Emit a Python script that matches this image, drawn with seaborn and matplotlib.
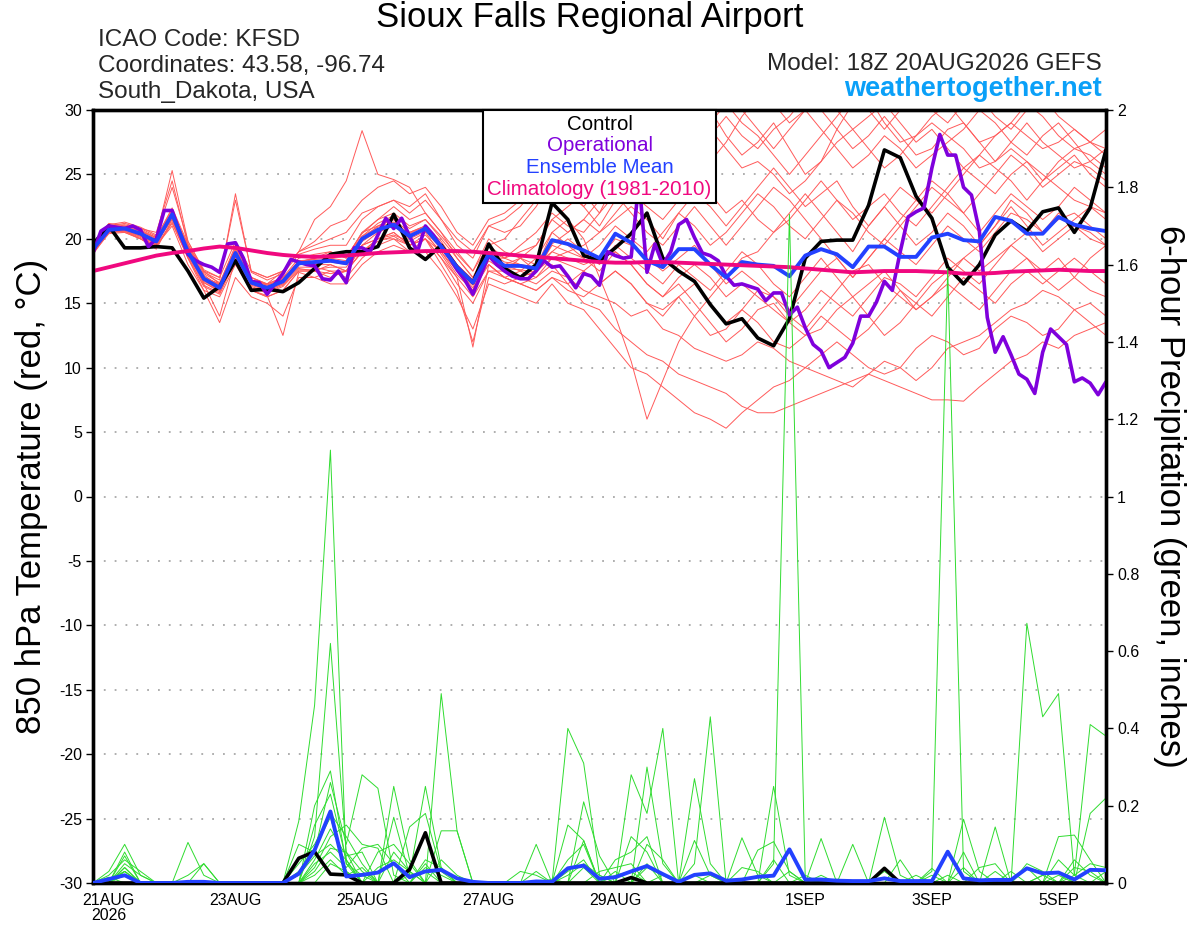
import matplotlib
matplotlib.use("Agg")
import matplotlib.pyplot as plt
import numpy as np
import pandas as pd
import seaborn as sns

# ---------------------------------------------------------------- data
RUN_START = "2026-08-20 18:00"
N_6H = 65
N_3H = 129

control_temp = [19.6, 21.0, 19.3, 19.3, 19.4, 19.3, 17.5, 15.4, 16.3, 18.3,
                16.0, 16.1, 15.9, 16.6, 17.7, 18.8, 19.0, 19.0, 19.4, 21.9,
                19.3, 18.4, 19.5, 17.8, 16.6, 19.6, 17.7, 17.0, 18.0, 22.8,
                21.5, 18.7, 18.3, 19.3, 20.4, 22.0, 18.5, 17.5, 16.7, 14.9,
                13.4, 13.8, 12.3, 11.7, 13.8, 18.5, 19.8, 19.9, 19.9, 22.6,
                26.9, 26.3, 23.3, 21.6, 17.8, 16.5, 18.0, 20.3, 21.4, 20.6,
                22.1, 22.4, 20.5, 22.4, 26.9]

mean_temp = [19.2, 20.7, 20.8, 20.4, 19.8, 21.9, 19.0, 16.9, 16.2, 18.9,
             16.6, 16.2, 16.7, 18.1, 18.2, 18.3, 18.1, 20.0, 20.7, 21.1,
             20.2, 20.8, 19.4, 17.8, 16.6, 18.8, 17.9, 17.9, 17.7, 19.9,
             19.6, 19.1, 18.5, 20.4, 19.7, 18.3, 17.8, 19.2, 19.2, 18.0,
             17.0, 18.2, 18.0, 17.9, 17.1, 18.7, 19.2, 18.8, 17.8, 19.4,
             19.4, 18.6, 18.6, 20.1, 20.4, 19.9, 19.8, 21.7, 21.4, 20.4,
             20.4, 21.7, 21.1, 20.8, 20.6]

clim_temp = [17.5, 17.8, 18.1, 18.4, 18.7, 18.9, 19.05, 19.25, 19.4, 19.3,
             19.1, 18.9, 18.75, 18.65, 18.6, 18.65, 18.7, 18.8, 18.9, 18.95,
             19.0, 19.05, 19.05, 19.05, 19.0, 18.9, 18.8, 18.7, 18.6, 18.5,
             18.4, 18.3, 18.2, 18.15, 18.15, 18.2, 18.2, 18.15, 18.1, 18.05,
             18.0, 17.95, 17.9, 17.85, 17.8, 17.7, 17.6, 17.5, 17.4, 17.45,
             17.5, 17.5, 17.5, 17.45, 17.4, 17.3, 17.3, 17.35, 17.45, 17.5,
             17.55, 17.6, 17.55, 17.5, 17.5]

oper_temp = [18.9, 20.6, 21.0, 20.9, 20.8, 21.0, 20.7, 19.4, 20.0, 22.2,
             22.2, 20.4, 18.8, 18.3, 18.0, 17.8, 17.4, 19.6, 19.7, 18.5,
             16.7, 16.6, 15.7, 16.5, 17.3, 18.4, 18.2, 18.0, 17.9, 16.9,
             16.8, 17.5, 16.6, 19.3, 19.3, 19.0, 20.3, 21.6, 20.8, 21.6,
             20.2, 19.0, 21.0, 20.3, 19.4, 18.6, 17.6, 16.8, 15.7, 17.2,
             18.7, 18.0, 17.5, 17.1, 16.9, 16.9, 17.5, 18.3, 17.8, 17.9,
             17.1, 16.2, 17.3, 17.1, 16.4, 19.0, 18.7, 18.5, 18.6, 24.5,
             17.4, 19.6, 18.0, 19.0, 21.1, 21.5, 20.1, 18.9, 18.7, 18.3,
             17.1, 16.4, 16.5, 16.3, 16.1, 15.2, 15.8, 15.8, 14.1, 14.7,
             13.1, 11.8, 11.3, 10.0, 10.4, 10.8, 11.9, 14.0, 14.0, 15.1,
             16.7, 16.0, 19.0, 21.7, 22.1, 22.4, 25.5, 28.1, 26.5, 26.5,
             24.0, 23.4, 20.6, 13.9, 11.2, 12.4, 11.0, 9.5, 9.1, 8.0,
             11.2, 13.0, 12.4, 11.8, 8.9, 9.2, 8.8, 7.9, 8.9]

temp_m01 = [19.5,21.2,21.0,20.8,20.5,24.5,19.5,17.0,16.5,19.5,17.0,16.5,17.5,19.0,21.5,22.5,24.5,28.4,25.0,24.6,24.0,22.0,20.5,18.5,17.0,19.5,20.0,21.5,23.0,25.5,24.0,22.5,21.0,23.0,25.0,26.5,27.0,29.0,31.0,30.0,28.0,26.5,27.5,29.0,27.0,25.0,26.0,28.5,30.5,31.0,29.0,27.5,28.0,29.5,30.5,29.0,27.5,28.0,29.0,30.5,29.5,28.0,27.0,27.5,28.5]
temp_m02 = [18.8,20.5,20.6,20.0,19.2,21.5,18.5,16.0,15.5,18.0,16.0,15.5,16.0,17.5,17.5,17.0,17.5,19.0,20.0,20.5,19.5,20.0,18.5,16.5,15.0,17.5,17.0,17.5,18.5,20.5,21.5,20.0,17.0,14.0,10.5,6.0,9.0,12.0,14.0,15.5,17.0,18.5,19.0,20.5,22.0,23.5,22.0,20.5,19.0,21.0,22.5,21.0,19.5,20.5,22.0,21.0,19.5,21.0,23.0,22.0,20.5,21.5,22.0,21.0,20.0]
temp_m03 = [19.0,20.6,20.5,20.0,19.5,21.0,18.0,16.0,13.5,17.0,15.5,15.0,14.0,17.0,17.0,17.5,17.5,19.5,20.0,20.0,19.0,19.0,17.5,15.5,13.0,16.5,16.0,15.5,15.0,16.5,15.0,14.5,13.0,11.5,10.0,9.5,8.5,7.5,6.5,6.0,5.3,6.5,7.5,8.5,9.0,10.0,9.5,9.0,8.5,9.5,10.5,10.0,9.0,10.0,11.5,12.0,12.5,13.5,14.5,15.0,16.0,15.5,14.5,13.5,12.5]
temp_m04 = [19.3,20.8,20.9,20.5,19.8,22.0,19.5,17.5,16.5,19.0,17.0,16.5,17.0,18.0,18.0,18.5,18.0,20.0,21.0,21.5,20.0,21.0,19.5,18.0,16.5,18.0,17.0,16.5,17.0,18.0,16.5,15.0,14.5,13.0,12.0,11.0,10.5,9.5,9.0,8.5,8.0,7.0,6.5,6.5,7.0,7.5,8.0,8.5,9.0,9.5,9.0,8.5,8.0,7.5,7.5,7.4,8.5,9.5,10.5,11.0,12.0,11.5,12.5,13.0,13.5]
temp_m05 = [19.1,20.7,20.8,20.3,19.6,21.8,19.0,16.5,14.0,18.5,16.0,15.5,16.0,17.5,17.5,18.0,17.5,19.0,20.0,20.5,19.5,20.0,18.0,16.0,12.0,17.0,16.5,17.0,16.5,17.5,17.0,16.0,15.5,15.0,14.0,14.5,13.0,12.5,11.5,11.0,10.5,11.0,12.0,11.5,10.5,10.0,11.0,12.0,11.0,10.0,9.5,10.0,11.5,12.5,12.0,11.0,11.5,13.0,14.0,13.5,12.5,13.0,14.5,15.0,14.0]
temp_m06 = [19.4,21.0,21.2,20.8,20.2,25.3,19.8,17.5,17.0,23.0,17.5,17.0,17.5,19.0,19.5,20.0,20.5,22.0,22.5,23.0,22.0,23.0,21.5,20.0,19.0,21.0,21.5,22.5,24.0,26.0,25.5,26.5,27.5,28.5,29.0,30.5,29.5,31.0,30.0,28.5,27.0,25.5,26.0,25.0,23.5,24.5,26.0,27.5,28.5,27.0,25.5,26.5,28.0,29.0,28.0,27.0,25.5,26.0,27.0,26.0,24.5,25.5,26.5,25.0,24.0]
temp_m07 = [19.0,20.5,20.7,20.4,19.9,21.5,18.8,16.8,16.0,18.5,16.5,16.0,16.5,18.0,18.5,19.0,18.5,20.5,21.5,22.0,21.0,21.5,20.0,18.5,17.0,19.0,18.5,19.5,20.5,22.0,21.0,20.5,22.0,23.5,22.0,20.5,19.5,21.0,22.5,21.0,19.5,21.0,22.5,24.0,23.0,21.5,20.0,18.5,17.0,18.5,20.0,21.5,23.0,24.5,23.5,22.0,23.5,25.0,26.5,25.5,24.0,25.0,26.0,25.5,24.5]
temp_m08 = [19.2,20.9,20.8,20.5,19.7,22.2,19.2,17.2,16.3,19.0,16.8,16.3,16.8,18.3,18.0,18.0,17.5,19.5,20.5,21.0,20.5,21.0,19.8,18.0,16.8,19.0,18.0,17.5,17.0,18.5,18.0,17.5,16.5,17.5,16.5,15.0,14.0,15.5,16.5,15.0,13.5,14.5,16.0,15.5,14.0,13.0,14.5,16.0,17.5,18.0,16.5,15.5,14.5,15.5,17.0,18.5,19.5,21.0,22.5,21.0,19.5,20.5,21.5,22.5,22.0]
temp_m09 = [19.3,20.8,21.0,20.6,20.0,22.0,19.3,17.0,16.5,19.2,16.8,16.5,17.0,18.5,18.8,19.0,18.5,20.5,21.0,21.5,20.5,21.0,19.5,17.5,16.0,18.5,18.5,19.0,19.5,21.5,22.5,23.5,22.0,24.5,26.0,24.5,23.0,24.5,26.5,28.0,29.5,28.0,27.0,28.5,29.5,31.0,30.0,28.5,27.0,28.0,29.5,28.0,26.5,27.0,28.5,29.0,27.5,26.0,27.5,29.0,27.5,26.5,25.5,26.0,27.0]
temp_m10 = [19.1,20.6,20.7,20.2,19.6,21.7,18.8,16.6,16.0,18.7,16.4,16.0,16.5,17.8,17.8,17.5,17.0,18.5,19.5,20.0,19.5,20.0,19.0,17.5,16.0,18.0,17.0,16.5,16.0,17.0,16.5,17.5,18.5,19.0,18.0,16.5,15.5,16.5,15.0,13.5,12.0,13.0,14.5,15.0,13.5,12.5,13.0,14.5,15.5,14.0,12.5,13.5,15.0,16.5,17.5,18.5,17.5,18.5,19.5,20.5,19.0,20.0,21.0,20.5,19.5]
temp_m11 = [19.2,20.7,20.9,20.6,20.1,22.3,19.4,17.3,16.6,19.3,17.0,16.4,16.9,18.2,18.5,18.8,18.6,20.2,21.2,21.8,20.8,21.5,20.2,18.8,17.5,19.5,18.5,18.0,17.5,19.5,19.0,19.5,20.5,21.5,22.5,21.5,20.0,22.0,23.5,22.5,21.0,22.5,24.0,25.5,24.0,22.5,23.5,24.5,22.5,21.0,22.5,24.0,23.0,22.0,23.5,25.0,26.5,25.5,24.5,23.0,24.5,26.0,27.0,26.5,25.5]
temp_m12 = [19.0,20.5,20.6,20.1,19.5,21.3,18.6,16.4,15.8,18.4,16.2,15.8,16.3,17.6,17.6,17.8,17.8,19.5,20.0,20.3,19.8,20.5,18.8,17.0,15.5,17.5,17.5,18.5,18.0,19.0,20.0,19.0,18.0,19.5,18.5,17.5,16.5,18.0,17.0,16.0,17.5,19.0,18.0,16.5,15.5,17.0,18.5,17.0,15.5,16.5,17.5,16.0,14.5,15.5,16.5,15.5,14.5,16.0,17.5,18.5,17.0,16.0,17.0,18.5,19.5]
temp_m13 = [19.4,21.0,21.1,20.7,20.1,22.4,19.6,17.4,16.8,23.5,17.4,16.8,17.3,18.8,19.2,19.5,19.5,21.5,22.5,23.0,22.5,23.5,21.5,19.5,18.5,21.0,20.5,21.0,22.5,24.5,23.5,22.5,24.0,25.5,24.0,23.0,24.5,26.0,27.5,26.0,27.5,29.5,31.0,30.5,29.0,30.0,31.5,30.0,28.5,29.5,30.5,29.0,27.5,28.5,27.0,25.5,26.5,28.0,29.0,28.0,27.0,27.5,28.5,27.5,26.5]
temp_m14 = [19.2,20.8,20.8,20.4,19.8,21.9,19.0,16.9,16.2,18.9,16.6,16.2,16.7,18.1,18.2,18.3,18.1,20.0,20.8,21.2,20.3,20.8,19.4,17.6,16.2,18.5,18.0,18.5,17.5,19.0,18.5,18.0,18.5,20.0,19.5,18.5,17.5,18.5,19.5,18.0,16.5,17.5,16.5,15.5,14.5,16.0,17.5,18.5,17.0,18.5,20.0,19.0,18.0,19.5,21.0,20.0,19.0,20.5,22.0,21.5,20.5,22.0,21.0,20.0,19.5]
temp_m15 = [19.1,20.6,20.7,20.3,19.7,21.6,18.9,16.7,16.1,18.8,16.5,16.1,16.6,18.0,18.1,18.2,18.0,19.8,20.6,21.0,20.0,20.6,19.2,17.6,16.4,18.6,17.7,17.6,17.4,19.6,20.5,21.5,20.5,22.0,23.5,22.5,21.5,23.0,24.5,23.5,22.0,23.0,21.5,20.5,21.5,23.0,24.5,23.0,21.5,22.5,23.5,22.0,21.0,22.5,24.0,25.5,24.5,23.5,25.0,26.0,25.0,24.0,23.0,22.5,21.5]
temp_m16 = [19.3,20.9,20.9,20.5,19.9,22.1,19.2,17.1,16.4,19.1,16.8,16.4,16.9,18.3,18.4,18.5,18.3,20.2,20.9,21.3,20.4,21.0,19.6,18.0,16.8,19.0,18.2,18.0,17.8,20.5,19.5,18.5,17.5,19.0,18.0,16.5,15.5,17.0,18.0,17.0,15.5,16.5,15.5,14.5,13.5,14.5,16.0,15.0,14.0,15.5,17.0,16.5,15.5,17.0,18.5,17.5,16.5,18.0,19.5,18.5,17.5,18.5,17.0,16.0,15.5]
temp_m17 = [19.4,21.1,21.3,20.9,20.3,24.0,19.8,17.6,17.0,19.8,17.5,17.0,17.5,19.0,19.8,21.0,21.5,23.0,24.0,24.5,23.5,24.0,22.5,20.5,19.5,21.5,22.0,23.0,24.5,25.5,26.5,25.5,24.5,26.0,27.5,28.5,27.0,26.0,27.5,29.0,30.5,29.0,28.0,26.5,25.0,26.5,28.0,29.5,31.0,30.0,28.5,30.0,31.0,30.0,29.0,30.5,31.0,29.5,28.5,30.0,31.0,29.5,28.5,27.5,27.0]
temp_m18 = [18.9,20.4,20.5,20.0,19.4,21.2,18.5,16.3,15.7,18.3,16.0,15.6,12.5,17.4,17.0,16.5,16.5,18.0,19.0,19.5,19.0,20.0,18.5,17.0,11.6,18.0,17.0,16.5,16.0,17.0,16.0,15.5,16.5,17.5,16.5,15.0,14.5,15.5,14.0,12.5,13.0,14.5,13.5,12.0,11.5,12.5,14.0,13.0,12.0,13.0,14.5,16.0,15.0,14.0,15.5,17.0,16.0,15.0,16.5,17.5,16.5,17.5,18.5,17.5,16.5]
temp_m19 = [19.2,20.7,20.9,20.5,19.9,22.0,19.1,17.0,16.3,19.0,16.7,16.3,16.8,18.2,18.5,18.8,18.6,20.4,21.5,22.5,21.5,22.0,20.5,19.0,17.5,20.0,19.0,18.5,19.5,21.5,20.5,21.5,23.0,24.5,25.5,24.0,25.5,27.0,28.5,30.0,31.5,30.0,28.5,27.0,28.5,30.0,28.5,27.0,25.5,26.5,28.0,27.0,25.5,26.5,27.5,28.5,30.0,29.0,27.5,26.5,28.0,29.0,27.5,26.0,25.0]
temp_m20 = [19.0,20.6,20.6,20.2,19.6,21.6,18.7,16.6,15.9,18.6,16.3,15.9,16.4,17.7,17.5,17.3,17.5,19.0,19.8,20.2,19.5,20.3,19.0,17.2,16.0,18.3,17.5,17.0,17.5,18.5,19.0,18.5,19.5,21.0,20.0,19.0,20.5,22.0,21.0,19.5,20.5,22.0,23.5,22.5,21.0,20.0,21.5,23.0,22.0,20.5,19.5,21.0,22.5,24.0,23.0,22.0,20.5,22.0,23.5,22.5,21.5,22.5,24.0,23.0,22.0]

control_prcp = [0, 0, 0, 0, 0, 0, 0, 0, 0, 0,
                0, 0, 0, .064, .081, .023, .021, 0, 0, 0,
                .035, .13, 0, 0, 0, 0, 0, 0, 0, 0,
                0, 0, 0, 0, .014, 0, 0, 0, 0, 0,
                0, 0, 0, 0, 0, 0, 0, 0, 0, 0,
                .038, 0, 0, 0, 0, 0, 0, 0, 0, 0,
                0, 0, 0, 0, 0]

mean_prcp = [0, .01, .02, 0, 0, 0, .003, .003, 0, 0,
             0, 0, 0, .024, .085, .185, .017, .021, .027, .051,
             .015, .03, .034, .012, .003, 0, 0, 0, .004, .003,
             .038, .045, .011, .015, .03, .044, .023, .003, .021, .025,
             .006, .009, .016, .019, .087, .009, .009, .006, .005, .005,
             .012, .005, .005, .005, .081, .012, .007, .008, .008, .038,
             .025, .027, .009, .034, .033]

prcp_m01 = [0,.03,.10,.02,0, 0,0,0,0,0, 0,0,0,.16,.46, 1.12,.05,.02,0,0, 0,.05,0,0,0, 0,0,0,0,0, .40,.31,.02,0,0, 0,0,0,0,0, 0,0,0,.05,1.73, .01,0,0,0,0, 0,0,0,0,0, 0,0,0,0,0, .02,0,0,0,0]
prcp_m02 = [0,0,.07,0,0, 0,0,0,0,0, 0,0,0,0,.12, .62,.08,0,0,.25, .06,0,0,0,0, 0,0,0,0,0, 0,0,0,0,.28, .18,.40,0,0,0, 0,0,0,0,0, 0,0,0,0,0, 0,0,0,.03,1.59, .03,0,0,0,0, 0,0,0,.18,.22]
prcp_m03 = [0,0,.05,.02,0, 0,.105,.02,0,0, 0,0,0,0,.20, .29,.05,0,0,0, 0,0,.49,.135,0, 0,0,0,0,0, 0,0,0,0,0, 0,0,0,.27,.05, 0,0,0,0,0, 0,0,0,0,0, 0,0,0,0,0, 0,0,0,0,.672, .43,.49,.02,0,0]
prcp_m04 = [0,0,.04,0,0, 0,0,.05,0,0, 0,0,0,.10,.08, .26,.10,.28,.245,.02, 0,0,0,0,0, 0,0,0,0,0, 0,.21,.07,0,0, 0,0,0,.05,.43, 0,0,0,0,0, 0,0,0,0,0, 0,0,0,0,0, 0,0,0,0,0, 0,0,.02,.41,.38]
prcp_m05 = [0,0,.03,0,0, 0,0,0,0,0, 0,0,0,0,.15, .23,.06,0,0,.17, .02,.25,.04,0,0, 0,0,0,.10,0, 0,0,0,0,0, .30,.05,0,0,0, 0,0,0,.25,.02, 0,0,0,0,0, 0,0,0,0,0, 0,0,.145,0,0, 0,.12,.124,.06,0]
prcp_m06 = [0,.02,.06,.03,0, 0,0,0,0,0, 0,0,0,.05,.10, .18,.12,.05,0,0, .145,.18,.03,0,0, 0,0,0,0,0, .15,.11,0,.06,.08, .12,0,0,0,0, 0,.117,.02,0,0, 0,0,0,0,0, .17,.02,0,0,0, .165,.03,0,0,0, 0,0,0,0,0]
prcp_m07 = [0,0,.08,0,0, 0,0,0,0,0, 0,0,0,0,.06, .14,.07,.08,0,0, 0,0,.135,.135,0, 0,0,0,0,0, 0,.11,0,0,.12, .08,0,0,0,0, 0,0,.085,.107,.03, 0,.115,0,0,0, 0,0,0,.038,0, 0,0,0,.03,0, 0,.06,.02,.05,.04]
prcp_m08 = [0,.01,.03,0,0, 0,0,0,0,0, 0,0,0,.03,.09, .17,.03,0,.08,.10, .05,0,0,0,0, 0,0,.03,.02,0, .03,.06,0,0,0, .10,.06,0,.11,.02, 0,0,0,0,0, 0,0,0,.10,0, 0,.06,0,0,0, 0,.04,.05,0,0, 0,0,0,0,.03]
prcp_m09 = [0,0,.02,0,0, 0,0,0,0,0, 0,0,0,0,.04, .12,.15,.10,.09,0, 0,.06,.04,0,0, 0,0,0,0,0, 0,0,.03,.04,.05, 0,0,0,0,0, 0,0,0,0,0, .02,0,.01,0,0, 0,0,0,.02,0, 0,0,0,0,.05, .03,0,0,0,0]
prcp_m10 = [0,0,0,0,0, 0,0,0,0,0, 0,0,0,0,.05, .08,.04,.09,.10,.05, 0,0,0,0,0, 0,0,0,0,0, .06,.10,0,0,0, .05,0,0,0,0, 0,0,0,.06,0, 0,0,0,0,0, 0,0,0,0,0, .08,0,0,0,0, 0,0,.04,.03,0]
prcp_m11 = [0,0,0,0,0, 0,.02,.05,0,0, 0,0,0,.02,.07, .10,.06,0,0,.08, .03,0,.06,.02,0, 0,0,0,0,0, 0,0,0,0,0, 0,.02,0,0,0, 0,.04,.03,0,0, 0,0,0,0,0, 0,0,0,0,.02, 0,0,.03,0,0, .02,.03,0,0,0]
prcp_m12 = [0,0,.04,0,0, 0,0,0,0,0, 0,0,0,0,0, .05,.03,0,.04,.06, .03,0,0,0,0, 0,0,0,.03,0, 0,.04,0,.02,.03, 0,0,0,0,.02, 0,0,0,0,0, 0,0,0,0,0, .03,0,0,0,0, .04,0,0,0,0, 0,.02,0,0,0]
prcp_m13 = [0,.015,0,0,0, 0,0,0,0,0, 0,0,0,0,.03, .09,.08,.03,0,0, 0,.04,.02,0,0, 0,0,0,0,0, .02,.05,.02,0,0, .04,.02,0,0,0, 0,0,0,0,.03, 0,.02,0,0,0, 0,0,0,0,0, 0,0,0,0,.04, 0,0,0,0,0]
prcp_m14 = [0,0,.03,0,0, 0,0,0,0,0, 0,0,0,0,.02, .06,.02,.04,0,0, .02,.03,0,0,0, 0,0,0,0,.01, 0,0,0,.03,0, 0,0,0,.02,0, 0,0,0,0,0, 0,0,0,0,0, 0,0,.02,0,0, 0,0,0,0,0, 0,0,.06,.02,0]

member_temp_lists = [temp_m01, temp_m02, temp_m03, temp_m04, temp_m05, temp_m06, temp_m07,
                     temp_m08, temp_m09, temp_m10, temp_m11, temp_m12, temp_m13, temp_m14,
                     temp_m15, temp_m16, temp_m17, temp_m18, temp_m19, temp_m20]
member_prcp_lists = [prcp_m01, prcp_m02, prcp_m03, prcp_m04, prcp_m05, prcp_m06, prcp_m07,
                     prcp_m08, prcp_m09, prcp_m10, prcp_m11, prcp_m12, prcp_m13, prcp_m14]

tick_dates = ["2026-08-21", "2026-08-23", "2026-08-25", "2026-08-27",
              "2026-08-29", "2026-09-01", "2026-09-03", "2026-09-05"]
tick_labels = ["21AUG\n2026", "23AUG", "25AUG", "27AUG", "29AUG", "1SEP", "3SEP", "5SEP"]
temp_ticks = list(range(-30, 31, 5))
prcp_ticks = [0, 0.2, 0.4, 0.6, 0.8, 1.0, 1.2, 1.4, 1.6, 1.8, 2.0]
prcp_tick_labels = ["0", "0.2", "0.4", "0.6", "0.8", "1", "1.2", "1.4", "1.6", "1.8", "2"]
legend_labels = ["Control", "Operational", "Ensemble Mean", "Climatology (1981-2010)"]

# ---------------------------------------------------------------- frames
times6 = pd.date_range(RUN_START, periods=N_6H, freq="6h")
times3 = pd.date_range(RUN_START, periods=N_3H, freq="3h")

mem_t = pd.concat([pd.DataFrame({"time": times6, "val": v, "member": k})
                   for k, v in enumerate(member_temp_lists)], ignore_index=True)
mem_p = pd.concat([pd.DataFrame({"time": times6, "val": v, "member": k})
                   for k, v in enumerate(member_prcp_lists)], ignore_index=True)
ctl_t = pd.DataFrame({"time": times6, "val": control_temp})
mean_t = pd.DataFrame({"time": times6, "val": mean_temp})
clim_t = pd.DataFrame({"time": times6, "val": clim_temp})
oper_t = pd.DataFrame({"time": times3, "val": oper_temp})
ctl_p = pd.DataFrame({"time": times6, "val": control_prcp})
mean_p = pd.DataFrame({"time": times6, "val": mean_prcp})

# ---------------------------------------------------------------- style
sns.set_theme(style="white")
plt.rcParams["font.family"] = ["Liberation Sans", "DejaVu Sans"]

RED = "#ff5a5a"
GREEN = "#2fdc2f"
BLACK = "#000000"
PURPLE = "#7f00dc"
BLUE = "#2341ff"
PINK = "#f0087f"

fig = plt.figure(figsize=(12, 9.27), dpi=100)
ax = fig.add_axes([93 / 1200, 44 / 927, 1013 / 1200, 773 / 927])
ax2 = ax.twinx()

sns.lineplot(data=mem_t, x="time", y="val", units="member", estimator=None,
             color=RED, lw=0.7, ax=ax, legend=False, zorder=2)
sns.lineplot(data=ctl_t, x="time", y="val", color=BLACK, lw=2.6, ax=ax, zorder=4)
sns.lineplot(data=oper_t, x="time", y="val", color=PURPLE, lw=2.6, ax=ax, zorder=5)
sns.lineplot(data=mean_t, x="time", y="val", color=BLUE, lw=2.8, ax=ax, zorder=6)
sns.lineplot(data=clim_t, x="time", y="val", color=PINK, lw=2.8, ax=ax, zorder=7)
h_ctl, h_oper, h_mean, h_clim = ax.get_lines()[-4:]

sns.lineplot(data=mem_p, x="time", y="val", units="member", estimator=None,
             color=GREEN, lw=0.7, ax=ax2, legend=False, zorder=2)
sns.lineplot(data=ctl_p, x="time", y="val", color=BLACK, lw=2.6, ax=ax2, zorder=4)
sns.lineplot(data=mean_p, x="time", y="val", color=BLUE, lw=2.8, ax=ax2, zorder=5)

ax.set_xlim(times6[0], times6[-1])
ax.set_ylim(-30, 30)
ax2.set_ylim(0, 2)

ax.set_yticks(temp_ticks)
ax.set_yticklabels([str(t) for t in temp_ticks])
ax2.set_yticks(prcp_ticks)
ax2.set_yticklabels(prcp_tick_labels)
ax.set_xticks(pd.to_datetime(tick_dates))
ax.set_xticklabels(tick_labels)
for lbl in ax.get_xticklabels():
    lbl.set_linespacing(1.0)

ax.yaxis.grid(True, linestyle=(0, (1, 5)), color="#a8a8a8", lw=1.3)
ax.xaxis.grid(False)
ax.set_axisbelow(True)

ax.tick_params(axis="y", left=True, direction="out", length=5, width=1,
               labelsize=11.5, pad=3, colors="black")
ax2.tick_params(axis="y", right=True, direction="out", length=5, width=1,
                labelsize=11.5, pad=3, colors="black")
ax.tick_params(axis="x", bottom=False, labelsize=11.5, pad=1, colors="black")

for a in (ax, ax2):
    for s in a.spines.values():
        s.set_color("black")
        s.set_linewidth(2.4)

ax.set_xlabel("")
ax.set_ylabel("850 hPa Temperature (red, \u00b0C)", fontsize=25, color="black")
ax.yaxis.set_label_coords(-0.044, 0.5)
ax2.set_ylabel("6-hour Precipitation (green, inches)", fontsize=25, color="black",
               rotation=270, va="center")
ax2.yaxis.set_label_coords(1.063, 0.5)

leg = ax2.legend([h_ctl, h_oper, h_mean, h_clim], legend_labels,
                 loc="upper center", bbox_to_anchor=(0.5, 1.0), borderaxespad=0,
                 handlelength=0, handletextpad=0, labelcolor="linecolor",
                 fontsize=14.8, labelspacing=0.13, frameon=True, fancybox=False,
                 borderpad=0.22, framealpha=1, alignment="center")
leg.get_frame().set_edgecolor("black")
leg.get_frame().set_linewidth(1.5)
for h in leg.legend_handles:
    h.set_visible(False)
for col in leg._legend_handle_box.get_children():
    col.align = "center"

fig.text(590 / 1200, 1 - 18 / 927, "Sioux Falls Regional Airport", ha="center",
         va="center", fontsize=25, color="black")
fig.text(98 / 1200, 1 - 40 / 927, "ICAO Code: KFSD", ha="left", va="center", fontsize=17.5)
fig.text(98 / 1200, 1 - 66 / 927, "Coordinates: 43.58, -96.74", ha="left", va="center",
         fontsize=17.5)
fig.text(98 / 1200, 1 - 92 / 927, "South_Dakota, USA", ha="left", va="center", fontsize=17.5)
fig.text(1102 / 1200, 1 - 64 / 927, "Model: 18Z 20AUG2026 GEFS", ha="right", va="center",
         fontsize=17.5)
fig.text(1102 / 1200, 1 - 89 / 927, "weathertogether.net", ha="right", va="center",
         fontsize=19.5, fontweight="bold", color="#0aa0f8")

fig.savefig("out.png", dpi=100, facecolor="white")
